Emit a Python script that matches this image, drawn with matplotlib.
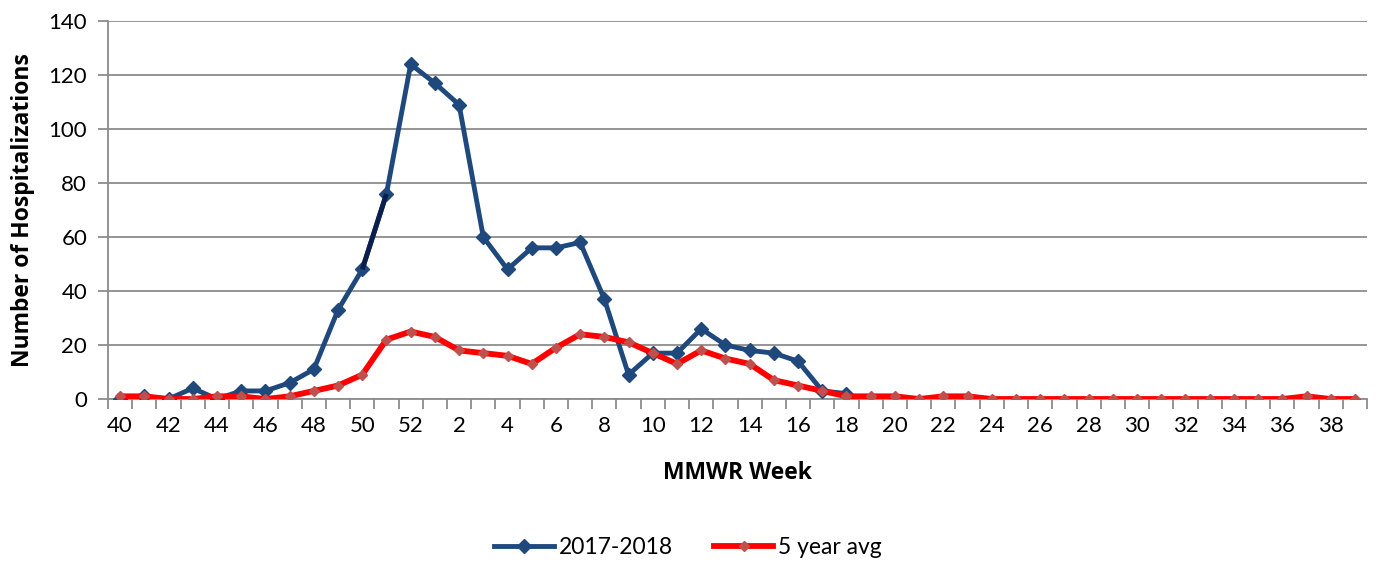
import matplotlib
matplotlib.use("Agg")
import matplotlib.pyplot as plt
import numpy as np

weeks = list(range(40, 53)) + list(range(1, 40))
season_2017_2018 = [0, 1, 0, 4, 0, 3, 3, 6, 11, 33, 48, 76, 124,
                    117, 109, 60, 48, 56, 56, 58, 37, 9, 17, 17, 26, 20, 18, 17, 14, 3, 2]
five_year_avg = [1, 1, 0, 0, 1, 1, 0, 1, 3, 5, 9, 22, 25,
                 23, 18, 17, 16, 13, 19, 24, 23, 21, 17, 13, 18, 15, 13, 7, 5, 3, 1,
                 1, 1, 0, 1, 1, 0, 0, 0, 0, 0, 0, 0, 0, 0, 0, 0, 0, 0, 1, 0, 0]
tick_labels = [str(w) for w in weeks]

plt.rcParams['font.family'] = ['Lato', 'DejaVu Sans']

fig = plt.figure(figsize=(13.76, 5.62), dpi=100)
ax = fig.add_axes([0.0785, 0.29, 0.915, 0.6725])

x = np.arange(len(weeks))
xb = x[:len(season_2017_2018)]
blue = '#1F497D'
ax.plot(xb, season_2017_2018, color=blue, lw=3.5, marker='D', markersize=7.5,
        markerfacecolor=blue, markeredgecolor=blue, label='2017-2018', zorder=3,
        solid_joinstyle='round')
# darker segment between weeks 50 and 51
ax.plot(xb[10:12], season_2017_2018[10:12], color='#0B1F4F', lw=3.5, zorder=3.5,
        solid_capstyle='butt')
ax.plot(x, five_year_avg, color='#FF0000', lw=4.2, marker='D', markersize=5,
        markerfacecolor='#C0504D', markeredgecolor='#C0504D', label='5 year avg', zorder=4)

ax.set_xlim(-0.5, len(weeks) - 0.5)
ax.set_ylim(0, 140)
ax.set_yticks(range(0, 141, 20))
ax.yaxis.grid(True, color='#8C8C8C', lw=1.3)
ax.set_axisbelow(True)

ax.set_xticks(np.arange(-0.5, len(weeks), 1), minor=False)
ax.set_xticklabels([])
ax.set_xticks(x[::2], minor=True)
ax.set_xticklabels(tick_labels[::2], minor=True)
ax.tick_params(axis='x', which='major', length=7, color='#8C8C8C', width=1.3, direction='out')
ax.tick_params(axis='x', which='minor', length=0, labelsize=16, pad=12)
ax.tick_params(axis='y', length=7, color='#8C8C8C', width=1.3, labelsize=16, pad=8)

for s in ['top', 'right']:
    ax.spines[s].set_visible(False)
for s in ['left', 'bottom']:
    ax.spines[s].set_color('#8C8C8C')
    ax.spines[s].set_linewidth(1.3)

label_font = dict(family=['Open Sans', 'DejaVu Sans'], size=16.5, weight='bold')
ax.set_ylabel('Number of Hospitalizations', fontdict=label_font, labelpad=10)
ax.set_xlabel('MMWR Week', fontdict=label_font, labelpad=18)

fig.legend(loc='center', bbox_to_anchor=(0.5, 0.026), ncol=2, frameon=False,
           fontsize=16.5, handlelength=2.6, columnspacing=1.8, handletextpad=0.2)

fig.savefig('out.png', dpi=100)
